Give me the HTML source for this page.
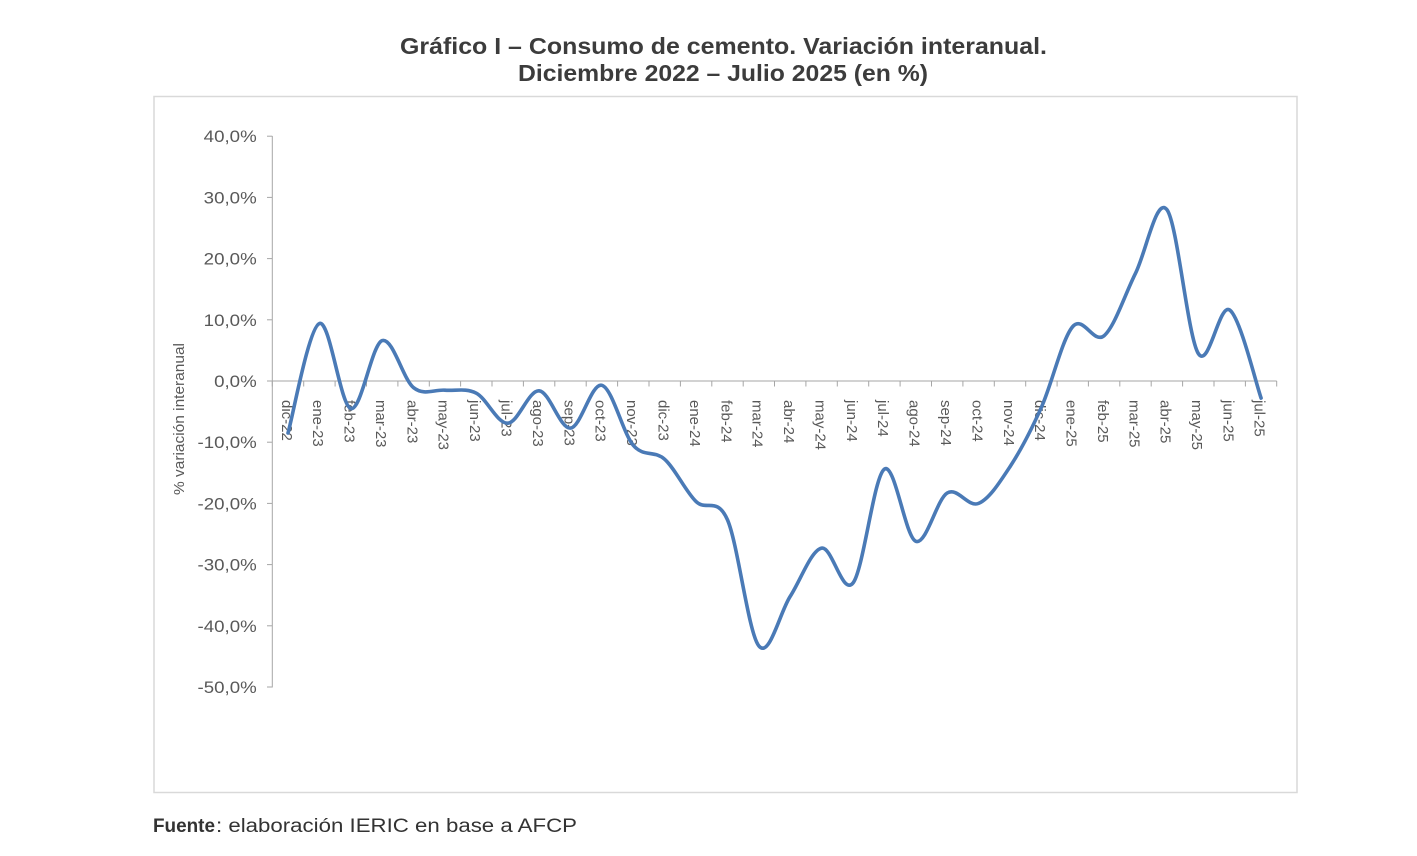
<!DOCTYPE html>
<html>
<head>
<meta charset="utf-8">
<style>
  html,body{margin:0;padding:0;background:#fff;}
  svg{display:block;}
  text{font-family:"Liberation Sans",Arial,sans-serif;}
</style>
</head>
<body>
<svg width="1417" height="856" viewBox="0 0 1417 856" xmlns="http://www.w3.org/2000/svg">
  <rect x="0" y="0" width="1417" height="856" fill="#ffffff"/>

  <!-- Title -->
  <text x="400" y="54" font-size="23" font-weight="bold" fill="#3c3c3c" textLength="647" lengthAdjust="spacingAndGlyphs">Gráfico I – Consumo de cemento. Variación interanual.</text>
  <text x="518" y="81" font-size="23" font-weight="bold" fill="#3c3c3c" textLength="410" lengthAdjust="spacingAndGlyphs">Diciembre 2022 – Julio 2025 (en %)</text>

  <!-- Chart border -->
  <rect x="154" y="96.5" width="1143" height="696" fill="none" stroke="#d9d9d9" stroke-width="1.5"/>

  <!-- Y axis -->
  <line x1="272.3" y1="136" x2="272.3" y2="687.5" stroke="#a6a6a6" stroke-width="1"/>
  <g stroke="#a6a6a6" stroke-width="1">
    <line x1="267" y1="136.2" x2="272.3" y2="136.2"/>
    <line x1="267" y1="197.4" x2="272.3" y2="197.4"/>
    <line x1="267" y1="258.6" x2="272.3" y2="258.6"/>
    <line x1="267" y1="319.8" x2="272.3" y2="319.8"/>
    <line x1="267" y1="381" x2="272.3" y2="381"/>
    <line x1="267" y1="442.2" x2="272.3" y2="442.2"/>
    <line x1="267" y1="503.4" x2="272.3" y2="503.4"/>
    <line x1="267" y1="564.6" x2="272.3" y2="564.6"/>
    <line x1="267" y1="625.8" x2="272.3" y2="625.8"/>
    <line x1="267" y1="687" x2="272.3" y2="687"/>
  </g>
  <g font-size="17" fill="#595959" text-anchor="end">
    <text x="256.7" y="142.2" textLength="53" lengthAdjust="spacingAndGlyphs">40,0%</text>
    <text x="256.7" y="203.4" textLength="53" lengthAdjust="spacingAndGlyphs">30,0%</text>
    <text x="256.7" y="264.6" textLength="53" lengthAdjust="spacingAndGlyphs">20,0%</text>
    <text x="256.7" y="325.8" textLength="53" lengthAdjust="spacingAndGlyphs">10,0%</text>
    <text x="256.7" y="387" textLength="42.6" lengthAdjust="spacingAndGlyphs">0,0%</text>
    <text x="256.7" y="448.2" textLength="59.2" lengthAdjust="spacingAndGlyphs">-10,0%</text>
    <text x="256.7" y="509.4" textLength="59.2" lengthAdjust="spacingAndGlyphs">-20,0%</text>
    <text x="256.7" y="570.6" textLength="59.2" lengthAdjust="spacingAndGlyphs">-30,0%</text>
    <text x="256.7" y="631.8" textLength="59.2" lengthAdjust="spacingAndGlyphs">-40,0%</text>
    <text x="256.7" y="693" textLength="59.2" lengthAdjust="spacingAndGlyphs">-50,0%</text>
  </g>

  <!-- Y axis title -->
  <text transform="translate(184,419) rotate(-90)" font-size="15" fill="#595959" text-anchor="middle" textLength="152" lengthAdjust="spacingAndGlyphs">% variación interanual</text>

  <!-- X axis -->
  <line x1="272.3" y1="381" x2="1276.7" y2="381" stroke="#a6a6a6" stroke-width="1"/>
  <g stroke="#a6a6a6" stroke-width="1">
    <line x1="272.3" y1="381" x2="272.3" y2="386.5"/>
    <line x1="303.7" y1="381" x2="303.7" y2="386.5"/>
    <line x1="335.1" y1="381" x2="335.1" y2="386.5"/>
    <line x1="366.5" y1="381" x2="366.5" y2="386.5"/>
    <line x1="397.9" y1="381" x2="397.9" y2="386.5"/>
    <line x1="429.3" y1="381" x2="429.3" y2="386.5"/>
    <line x1="460.6" y1="381" x2="460.6" y2="386.5"/>
    <line x1="492.0" y1="381" x2="492.0" y2="386.5"/>
    <line x1="523.4" y1="381" x2="523.4" y2="386.5"/>
    <line x1="554.8" y1="381" x2="554.8" y2="386.5"/>
    <line x1="586.2" y1="381" x2="586.2" y2="386.5"/>
    <line x1="617.6" y1="381" x2="617.6" y2="386.5"/>
    <line x1="649.0" y1="381" x2="649.0" y2="386.5"/>
    <line x1="680.4" y1="381" x2="680.4" y2="386.5"/>
    <line x1="711.8" y1="381" x2="711.8" y2="386.5"/>
    <line x1="743.2" y1="381" x2="743.2" y2="386.5"/>
    <line x1="774.5" y1="381" x2="774.5" y2="386.5"/>
    <line x1="805.9" y1="381" x2="805.9" y2="386.5"/>
    <line x1="837.3" y1="381" x2="837.3" y2="386.5"/>
    <line x1="868.7" y1="381" x2="868.7" y2="386.5"/>
    <line x1="900.1" y1="381" x2="900.1" y2="386.5"/>
    <line x1="931.5" y1="381" x2="931.5" y2="386.5"/>
    <line x1="962.9" y1="381" x2="962.9" y2="386.5"/>
    <line x1="994.3" y1="381" x2="994.3" y2="386.5"/>
    <line x1="1025.7" y1="381" x2="1025.7" y2="386.5"/>
    <line x1="1057.1" y1="381" x2="1057.1" y2="386.5"/>
    <line x1="1088.4" y1="381" x2="1088.4" y2="386.5"/>
    <line x1="1119.8" y1="381" x2="1119.8" y2="386.5"/>
    <line x1="1151.2" y1="381" x2="1151.2" y2="386.5"/>
    <line x1="1182.6" y1="381" x2="1182.6" y2="386.5"/>
    <line x1="1214.0" y1="381" x2="1214.0" y2="386.5"/>
    <line x1="1245.4" y1="381" x2="1245.4" y2="386.5"/>
    <line x1="1276.7" y1="381" x2="1276.7" y2="386.5"/>
  </g>

  <!-- X labels -->
  <g font-size="15" fill="#595959">
    <text transform="translate(287.0,400) rotate(90)" dy="0.35em">dic-22</text>
    <text transform="translate(318.4,400) rotate(90)" dy="0.35em">ene-23</text>
    <text transform="translate(349.8,400) rotate(90)" dy="0.35em">feb-23</text>
    <text transform="translate(381.2,400) rotate(90)" dy="0.35em">mar-23</text>
    <text transform="translate(412.6,400) rotate(90)" dy="0.35em">abr-23</text>
    <text transform="translate(443.9,400) rotate(90)" dy="0.35em">may-23</text>
    <text transform="translate(475.3,400) rotate(90)" dy="0.35em">jun-23</text>
    <text transform="translate(506.7,400) rotate(90)" dy="0.35em">jul-23</text>
    <text transform="translate(538.1,400) rotate(90)" dy="0.35em">ago-23</text>
    <text transform="translate(569.5,400) rotate(90)" dy="0.35em">sep-23</text>
    <text transform="translate(600.9,400) rotate(90)" dy="0.35em">oct-23</text>
    <text transform="translate(632.3,400) rotate(90)" dy="0.35em">nov-23</text>
    <text transform="translate(663.7,400) rotate(90)" dy="0.35em">dic-23</text>
    <text transform="translate(695.1,400) rotate(90)" dy="0.35em">ene-24</text>
    <text transform="translate(726.5,400) rotate(90)" dy="0.35em">feb-24</text>
    <text transform="translate(757.9,400) rotate(90)" dy="0.35em">mar-24</text>
    <text transform="translate(789.2,400) rotate(90)" dy="0.35em">abr-24</text>
    <text transform="translate(820.6,400) rotate(90)" dy="0.35em">may-24</text>
    <text transform="translate(852.0,400) rotate(90)" dy="0.35em">jun-24</text>
    <text transform="translate(883.4,400) rotate(90)" dy="0.35em">jul-24</text>
    <text transform="translate(914.8,400) rotate(90)" dy="0.35em">ago-24</text>
    <text transform="translate(946.2,400) rotate(90)" dy="0.35em">sep-24</text>
    <text transform="translate(977.6,400) rotate(90)" dy="0.35em">oct-24</text>
    <text transform="translate(1009.0,400) rotate(90)" dy="0.35em">nov-24</text>
    <text transform="translate(1040.4,400) rotate(90)" dy="0.35em">dic-24</text>
    <text transform="translate(1071.8,400) rotate(90)" dy="0.35em">ene-25</text>
    <text transform="translate(1103.1,400) rotate(90)" dy="0.35em">feb-25</text>
    <text transform="translate(1134.5,400) rotate(90)" dy="0.35em">mar-25</text>
    <text transform="translate(1165.9,400) rotate(90)" dy="0.35em">abr-25</text>
    <text transform="translate(1197.3,400) rotate(90)" dy="0.35em">may-25</text>
    <text transform="translate(1228.7,400) rotate(90)" dy="0.35em">jun-25</text>
    <text transform="translate(1259.5,400) rotate(90)" dy="0.35em">jul-25</text>
  </g>

  <!-- Series -->
  <path fill="none" stroke="#4a7ab6" stroke-width="3.6" stroke-linejoin="round" stroke-linecap="round"
    d="M288.0,433.0
       C293.2,414.8 308.9,327.6 319.4,323.5
       C329.9,319.4 340.3,405.7 350.8,408.5
       C361.3,411.4 371.7,344.1 382.2,340.6
       C392.7,337.1 403.1,379.4 413.6,387.7
       C424.1,396.0 434.4,389.3 444.9,390.2
       C455.4,391.1 465.8,387.7 476.3,393.2
       C486.8,398.7 497.2,423.6 507.7,423.2
       C518.2,422.8 528.6,390.0 539.1,390.8
       C549.6,391.6 560.0,429.0 570.5,428.1
       C581.0,427.2 591.4,382.4 601.9,385.3
       C612.4,388.2 622.8,433.0 633.3,445.3
       C643.8,457.6 654.2,449.9 664.7,459.3
       C675.2,468.7 685.6,491.5 696.1,501.6
       C706.6,511.7 717.0,495.8 727.5,519.9
       C738.0,544.0 748.4,633.3 758.9,646.0
       C769.4,658.8 779.7,612.7 790.2,596.4
       C800.7,580.1 811.1,550.3 821.6,548.1
       C832.1,545.9 842.5,596.2 853.0,583.0
       C863.5,569.8 873.9,476.1 884.4,469.1
       C894.9,462.2 905.3,537.3 915.8,541.3
       C926.3,545.3 936.7,499.3 947.2,493.0
       C957.7,486.7 968.1,507.8 978.6,503.4
       C989.1,499.0 999.5,482.7 1010.0,466.7
       C1020.5,450.7 1030.9,430.7 1041.4,407.3
       C1051.9,383.9 1062.3,338.4 1072.8,326.5
       C1083.3,314.6 1093.6,344.6 1104.1,335.7
       C1114.6,326.8 1125.0,294.3 1135.5,273.3
       C1146.0,252.3 1156.4,196.2 1166.9,209.6
       C1177.4,223.0 1187.8,336.8 1198.3,353.5
       C1208.8,370.2 1219.2,302.6 1229.7,310.0
       C1240.2,317.4 1255.9,383.4 1261.1,398.1"/>

  <!-- Footer -->
  <text x="153" y="832" font-size="19" font-weight="bold" fill="#333333" textLength="62" lengthAdjust="spacingAndGlyphs">Fuente</text>
  <text x="216" y="832" font-size="19" fill="#333333" textLength="361" lengthAdjust="spacingAndGlyphs">: elaboración IERIC en base a AFCP</text>
</svg>
</body>
</html>
